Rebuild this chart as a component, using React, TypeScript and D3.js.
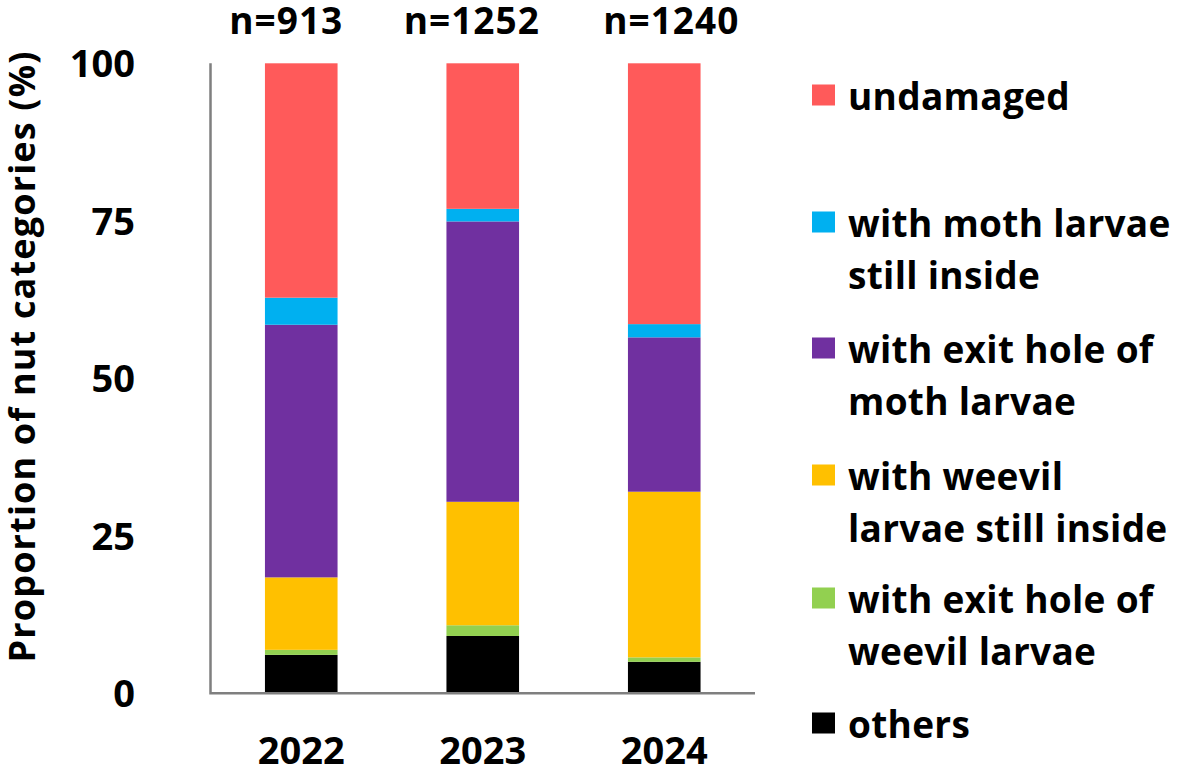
import React from "react";
import * as d3 from "d3";

const years = ["2022", "2023", "2024"];
const sampleSizes = ["n=913", "n=1252", "n=1240"];
const yTicks = [0, 25, 50, 75, 100];

// Series (bottom to top of stack), percent
const others = [6.1, 9.1, 5.0];
const exitHoleWeevil = [0.8, 1.7, 0.7];
const weevilInside = [11.5, 19.6, 26.3];
const exitHoleMoth = [40.1, 44.5, 24.5];
const mothInside = [4.3, 2.0, 2.1];
const undamaged = [37.2, 23.1, 41.4];

const seriesKeys = ["others", "exitHoleWeevil", "weevilInside", "exitHoleMoth", "mothInside", "undamaged"];
const seriesValues: Record<string, number[]> = {
  others, exitHoleWeevil, weevilInside, exitHoleMoth, mothInside, undamaged,
};
const colors: Record<string, string> = {
  others: "#000000",
  exitHoleWeevil: "#92D050",
  weevilInside: "#FFC000",
  exitHoleMoth: "#7030A0",
  mothInside: "#00B0F0",
  undamaged: "#FF5A5A",
};

// Legend (top to bottom)
const legendKeys = ["undamaged", "mothInside", "exitHoleMoth", "weevilInside", "exitHoleWeevil", "others"];
const legendLabels: string[][] = [
  ["undamaged"],
  ["with moth larvae", "still inside"],
  ["with exit hole of", "moth larvae"],
  ["with weevil", "larvae still inside"],
  ["with exit hole of", "weevil larvae"],
  ["others"],
];

const W = 1199;
const H = 770;
const FONT = "'Open Sans', 'Noto Sans', sans-serif";

export default function App() {
  const x0 = 210.5, x1 = 755;
  const yTop = 63.3, yBot = 693.3;

  const x = d3.scaleBand<string>().domain(years).range([x0, x1]).paddingInner(0.6).paddingOuter(0.3);
  const y = d3.scaleLinear().domain([0, 100]).range([yBot, yTop]);

  const table = years.map((yr, i) => {
    const row: any = { year: yr };
    seriesKeys.forEach((k) => (row[k] = seriesValues[k][i]));
    return row;
  });
  const stacked = d3.stack<any>().keys(seriesKeys)(table);

  const nOffsets = [-15, -11, 7];
  const legendY = [95, 222, 348, 475, 598, 723];
  const lineGap = 52;

  return (
    <svg width={W} height={H} style={{ position: "absolute", left: 0, top: 0, background: "#fff" }} fontFamily={FONT} fontWeight={700}>
      <rect x={0} y={0} width={W} height={H} fill="#fff" />
      {stacked.map((s) => (
        <g key={s.key} fill={colors[s.key]}>
          {s.map((d, i) => (
            <rect
              key={i}
              x={x(years[i])}
              width={x.bandwidth()}
              y={y(d[1])}
              height={Math.max(0, y(d[0]) - y(d[1]))}
            />
          ))}
        </g>
      ))}
      {/* axes */}
      <path d={`M${x0},${yTop} V${yBot} H${x1}`} fill="none" stroke="#7f7f7f" strokeWidth={2.5} />
      {yTicks.map((t) => (
        <text key={t} x={135} y={y(t) + 14} textAnchor="end" fontSize={38} fill="#000">
          {t}
        </text>
      ))}
      {years.map((yr) => (
        <text key={yr} x={(x(yr) as number) + x.bandwidth() / 2} y={764} textAnchor="middle" fontSize={38} fill="#000">
          {yr}
        </text>
      ))}
      {sampleSizes.map((n, i) => (
        <text key={n} x={(x(years[i]) as number) + x.bandwidth() / 2 + nOffsets[i]} y={33.5} textAnchor="middle" fontSize={37} letterSpacing={1} fill="#000">
          {n}
        </text>
      ))}
      <text
        transform={`translate(35,357) rotate(-90)`}
        textAnchor="middle"
        fontSize={36}
        textLength={611}
        lengthAdjust="spacing"
        fill="#000"
      >
        Proportion of nut categories (%)
      </text>
      {/* legend */}
      {legendKeys.map((k, i) => (
        <g key={k}>
          <rect x={812} y={legendY[i] - 10.5} width={23} height={21} fill={colors[k]} />
          {legendLabels[i].map((line, j) => (
            <text key={j} x={848} y={legendY[i] + j * lineGap} dominantBaseline="central" fontSize={37} letterSpacing={0.3} fill="#000">
              {line}
            </text>
          ))}
        </g>
      ))}
    </svg>
  );
}
